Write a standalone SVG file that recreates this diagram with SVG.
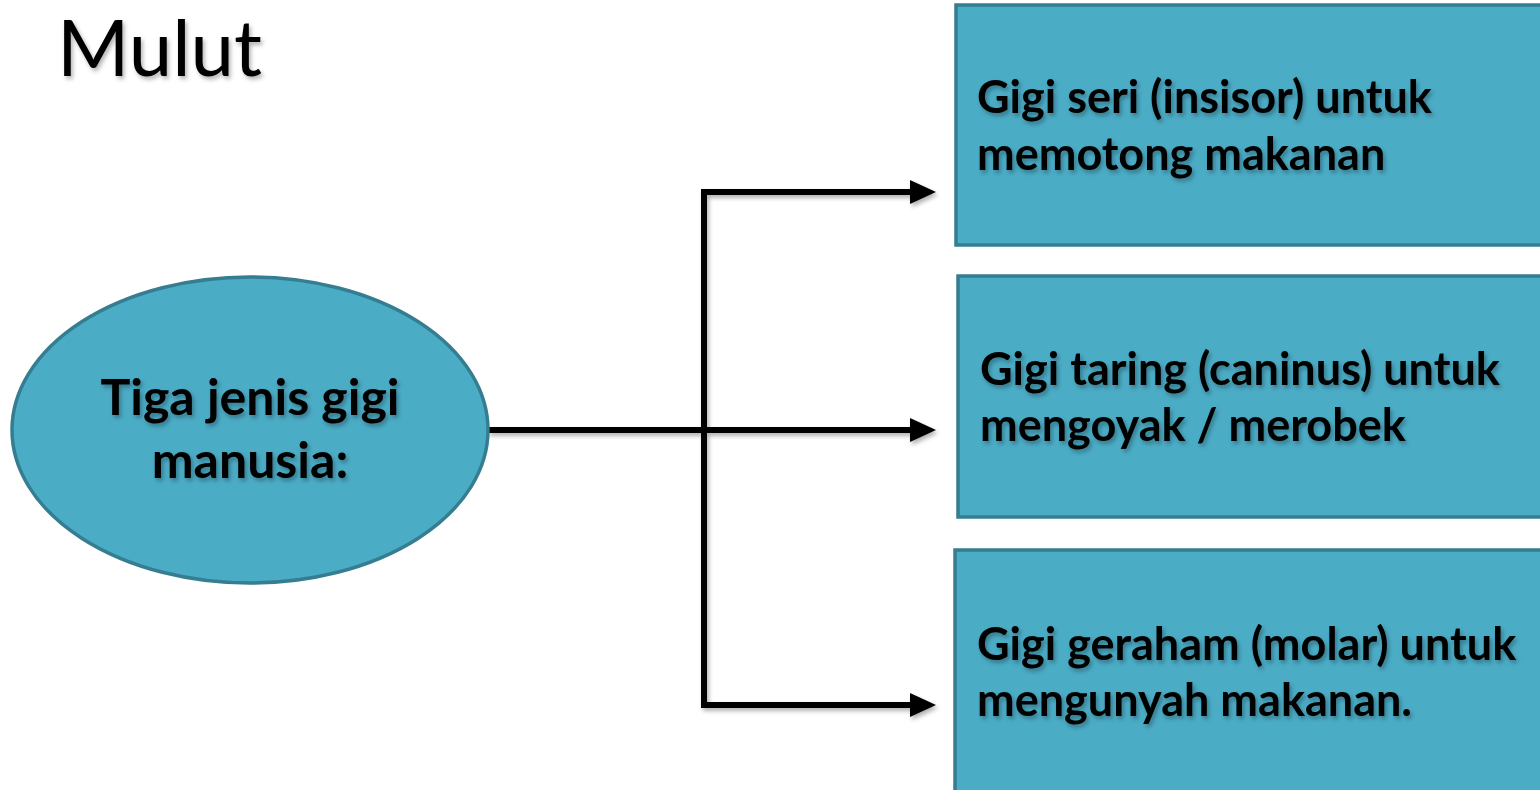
<svg xmlns="http://www.w3.org/2000/svg" width="1540" height="790" viewBox="0 0 1540 790">
<defs>
<style>
.node{fill:#4BACC6;stroke:#357D91;stroke-width:3.5}
.lbl{font-family:Lato,"Open Sans","Liberation Sans",sans-serif;font-weight:bold;font-size:45px;fill:#000}
.big{font-size:50px}
.conn{fill:none;stroke:#000;stroke-width:6;stroke-linejoin:miter}
.title{font-family:Lato,"Open Sans","Liberation Sans",sans-serif;font-size:78px;fill:#000}
</style>
<filter id="sh" x="-10%" y="-10%" width="130%" height="130%">
<feDropShadow dx="2" dy="3" stdDeviation="2" flood-color="#000" flood-opacity="0.3"/>
</filter>
<marker id="ah" markerUnits="userSpaceOnUse" markerWidth="30" markerHeight="30" refX="2" refY="12" orient="auto" overflow="visible">
<path d="M0,0 L26,12 L0,24 Z" fill="#000"/>
</marker>
</defs>
<rect width="1540" height="790" fill="#fff"/>
<g id="title"><text class="title" x="57" y="76" filter="url(#sh)">Mulut</text></g>
<g id="connectors" filter="url(#sh)">
<path class="conn" d="M488,430 L912,430" marker-end="url(#ah)"/>
<path class="conn" d="M704,192 L704,705"/>
<path class="conn" d="M701,192 L912,192" marker-end="url(#ah)"/>
<path class="conn" d="M701,705 L912,705" marker-end="url(#ah)"/>
</g>
<g id="center">
<ellipse class="node" cx="250" cy="430" rx="238" ry="153"/>
<text class="lbl big" x="250" y="415" text-anchor="middle" filter="url(#sh)">Tiga jenis gigi</text>
<text class="lbl big" x="250" y="478" text-anchor="middle" filter="url(#sh)">manusia:</text>
</g>
<g id="box1">
<rect class="node" x="956" y="5" width="600" height="240"/>
<text class="lbl" x="977" y="113" filter="url(#sh)">Gigi seri (insisor) untuk</text>
<text class="lbl" x="977" y="170" filter="url(#sh)">memotong makanan</text>
</g>
<g id="box2">
<rect class="node" x="958" y="276" width="600" height="241"/>
<text class="lbl" x="980" y="385" filter="url(#sh)">Gigi taring (caninus) untuk</text>
<text class="lbl" x="980" y="441" filter="url(#sh)">mengoyak / merobek</text>
</g>
<g id="box3">
<rect class="node" x="955" y="550" width="600" height="260"/>
<text class="lbl" x="977" y="660" filter="url(#sh)">Gigi geraham (molar) untuk</text>
<text class="lbl" x="977" y="716" filter="url(#sh)">mengunyah makanan.</text>
</g>
</svg>
